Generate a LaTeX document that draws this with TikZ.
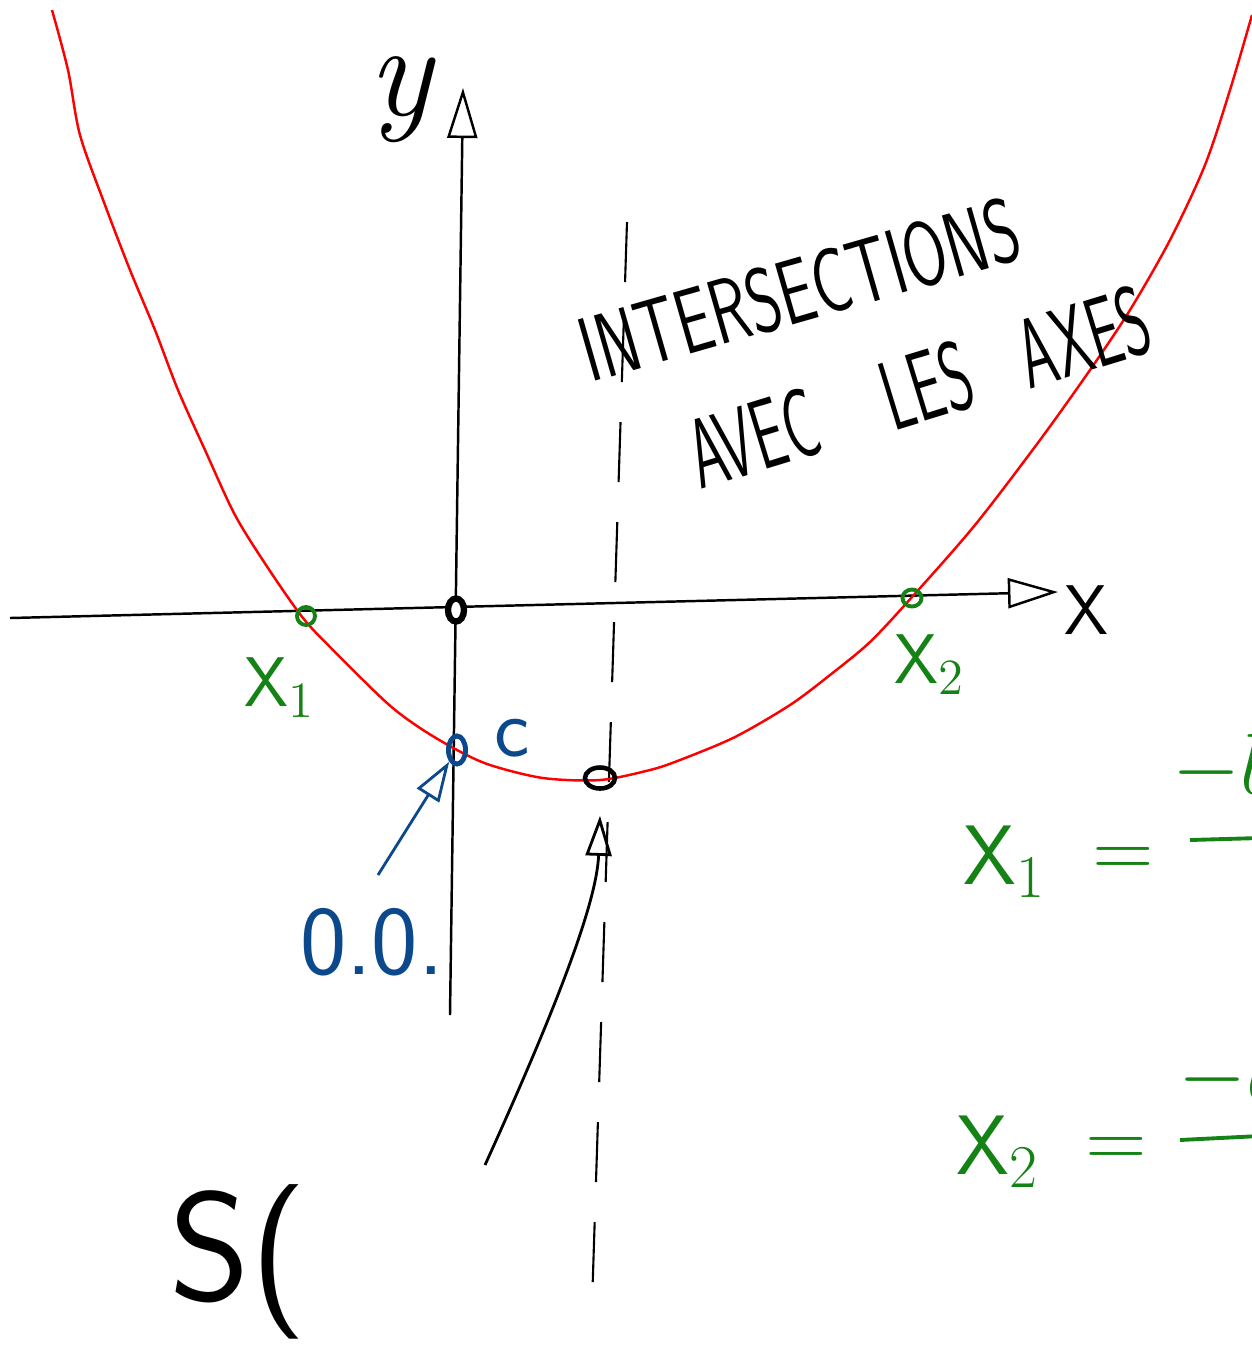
\documentclass[tikz,border=0pt]{standalone}
\usepackage{tikz}
\usetikzlibrary{arrows.meta,positioning,shapes.geometric}
\definecolor{handgreen}{RGB}{20,130,20}
\definecolor{handblue}{RGB}{12,72,140}

\begin{document}
\begin{tikzpicture}[x=0.01cm, y=-0.01cm, axis/.style={line width=0.7pt, draw=black}, axtip/.style={axis, -{Triangle[open, length=5mm, width=3mm]}}, curve/.style={line width=0.7pt, draw=red}, ptmark/.style={ellipse, draw, inner sep=0pt, line width=1.3pt, fill=white}, hand/.style={inner sep=0pt, font=\sffamily}, arr/.style={line width=0.8pt, -{Triangle[open, length=4mm, width=2.6mm]}}
]
  \useasboundingbox (0,0) rectangle (1252,1353);
  % axes
  \coordinate (xs) at (10,618);
  \coordinate (xe) at (1058,592);
  \coordinate (ys) at (450,1015);
  \coordinate (ye) at (463,88);
  \draw[axtip] (xs) -- (xe);
  \draw[axtip] (ys) -- (ye);
  \node[hand, font=\sffamily\fontsize{20}{22}\selectfont] (xlab) at (1086,610) {X};
  \node[hand, font=\itshape\fontsize{38}{40}\selectfont] (ylab) at (400,100) {y};
  % symmetry axis
  \coordinate (dtop) at (627,222);
  \coordinate (dbot) at (592,1305);
  \draw[line width=0.6pt, dash pattern=on 0.6cm off 0.4cm] (dtop) -- (dbot);
  % parabola
  \draw[curve] plot[smooth, tension=0.5] coordinates {(52,10) (68,70) (80,135) (105,205) (130,270) (155,330) (178,390) (205,450) (235,515) (268,568) (303,618) (333,650) (387,703) (420,728) (457,750) (490,765) (543,778) (600,780) (650,770) (680,760) (735,737) (790,705) (830,675) (870,642) (912,597) (975,525) (1040,440) (1090,370) (1130,310) (1170,240) (1205,165) (1230,90) (1252,15)};
  % points
  \node[ptmark, minimum width=1.6mm, minimum height=2.3mm, line width=1.8pt] (O) at (456,610) {};
  \node[ptmark, draw=handgreen, minimum width=1.8mm, minimum height=1.8mm, line width=1.1pt, fill=none] (x1pt) at (306,616) {};
  \node[ptmark, draw=handgreen, minimum width=1.9mm, minimum height=1.7mm, line width=1.1pt, fill=none] (x2pt) at (912,598) {};
  \node[ptmark, draw=handblue, minimum width=1.7mm, minimum height=2.8mm, line width=1.4pt, fill=none] (cpt) at (457,750) {};
  \node[ptmark, minimum width=3mm, minimum height=2.1mm, fill=none] (S) at (600,778) {};
  % labels of the points
  \node[hand, text=handgreen, font=\sffamily\fontsize{20}{22}\selectfont] (x1lab) at (280,688) {X$_1$};
  \node[hand, text=handgreen, font=\sffamily\fontsize{20}{22}\selectfont] (x2lab) at (930,665) {X$_2$};
  \node[hand, text=handblue, font=\sffamily\fontsize{24}{26}\selectfont] (clab) at (512,738) {c};
  \node[hand, text=handblue, font=\sffamily\fontsize{28}{30}\selectfont] (oolab) at (372,942) {0.0.};
  \coordinate (ostart) at (378,875);
  \draw[arr, draw=handblue] (ostart) -- (cpt.south west);
  % vertex
  \coordinate (sstart) at (485,1165);
  \draw[arr] (sstart) .. controls (560,1000) and (597,900) .. ([yshift=-2.5mm]S.south);
  \node[hand, font=\sffamily\fontsize{44}{46}\selectfont] (slab) at (238,1262) {S(};
  % title
  \node[hand, anchor=base west, rotate=16, xscale=0.69, font=\sffamily\fontsize{26}{28}\selectfont] (title) at (590,383) {INTERSECTIONS};
  \node[hand, anchor=base west, rotate=17, xscale=0.58, font=\sffamily\fontsize{28}{30}\selectfont] (sub) at (700,490) {AVEC\hspace{1.2cm}LES\hspace{0.9cm}AXES};
  % roots
  \node[hand, text=handgreen, font=\sffamily\fontsize{24}{26}\selectfont] (r1) at (1005,862) {X$_1$};
  \node[hand, text=handgreen, font=\sffamily\fontsize{24}{26}\selectfont] (r1eq) [right=0.45cm of r1] {=};
  \node[hand, text=handgreen, font=\sffamily\fontsize{28}{30}\selectfont, anchor=west] (r1num) at (1172,768) {$-b$};
  \coordinate (r1bar) at (1190,840);
  \draw[handgreen, line width=1.1pt] (r1bar) -- ++(70,-2);
  \node[hand, text=handgreen, font=\sffamily\fontsize{24}{26}\selectfont] (r2) at (998,1152) {X$_2$};
  \node[hand, text=handgreen, font=\sffamily\fontsize{24}{26}\selectfont] (r2eq) [right=0.45cm of r2] {=};
  \node[hand, text=handgreen, font=\sffamily\fontsize{28}{30}\selectfont, anchor=west] (r2num) at (1178,1075) {$-b$};
  \coordinate (r2bar) at (1180,1140);
  \draw[handgreen, line width=1.1pt] (r2bar) -- ++(80,-4);
\end{tikzpicture}
\end{document}
